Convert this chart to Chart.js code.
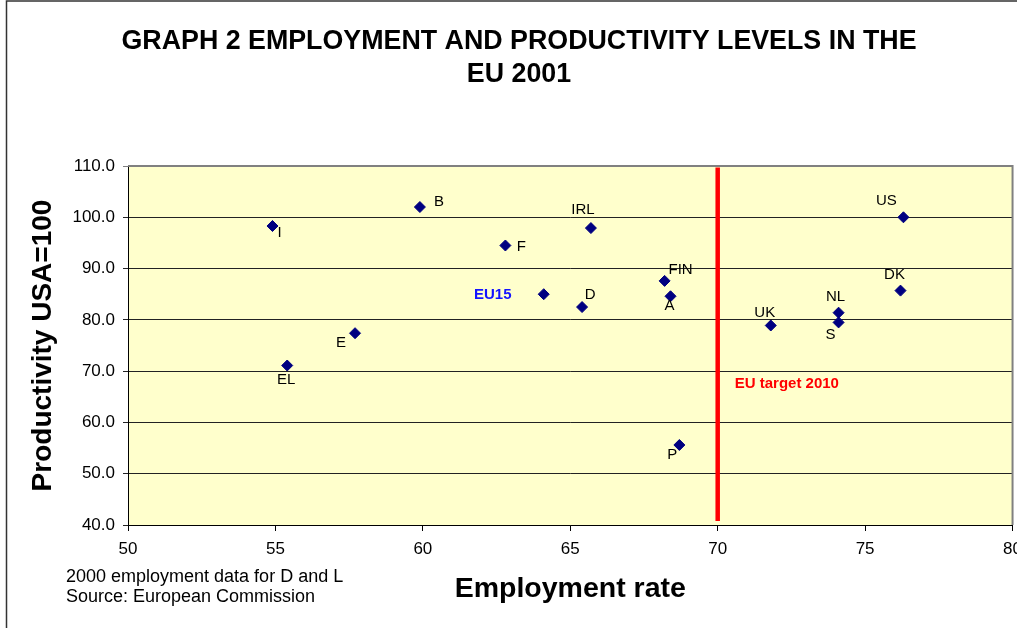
<!DOCTYPE html>
<html>
<head>
<meta charset="utf-8">
<title>Employment and productivity levels in the EU 2001</title>
<script src="https://cdn.jsdelivr.net/npm/chart.js@4.4.1/dist/chart.umd.min.js"></script>
<style>
  html, body { margin: 0; padding: 0; background: #ffffff; overflow: hidden; }
  #wrap { width: 1017px; height: 628px; position: relative; overflow: hidden; }
  canvas { display: block; }
</style>
</head>
<body>
<div id="wrap"><canvas id="chart" width="1030" height="628"></canvas></div>
<script>
// Country codes, employment rate (%) and productivity (USA = 100), 2001
const countries      = ['I', 'B', 'IRL', 'F', 'EU15', 'D', 'E', 'EL', 'US', 'FIN', 'A', 'DK', 'NL', 'S', 'UK', 'P'];
const employmentRate = [54.9, 59.9, 65.7, 62.8, 64.1, 65.4, 57.7, 55.4, 76.3, 68.2, 68.4, 76.2, 74.1, 74.1, 71.8, 68.7];
const productivity   = [98.3, 102.0, 97.9, 94.5, 85.0, 82.5, 77.4, 71.1, 100.0, 87.6, 84.6, 85.7, 81.4, 79.5, 78.9, 55.6];

// Axis ticks
const xTicks = [50, 55, 60, 65, 70, 75, 80];
const yTicks = [40, 50, 60, 70, 80, 90, 100, 110];

// Lisbon employment-rate target for 2010
const targetRate = 70;
const targetLabel = 'EU target 2010';

// Text
const titleLines = ['GRAPH 2 EMPLOYMENT AND PRODUCTIVITY LEVELS IN THE', 'EU 2001'];
const xTitle = 'Employment rate';
const yTitle = 'Productivity USA=100';
const notes = ['2000 employment data for D and L', 'Source: European Commission'];

// Where each country code sits relative to its marker (px)
const labelOffsets = {
  I: [7, 7], B: [19, -5], IRL: [-8, -18], F: [16, 1], EU15: [-51, 1], D: [8, -12],
  E: [-14, 10], EL: [-1, 14], US: [-17, -16], FIN: [16, -11], A: [-1, 10],
  DK: [-6, -16], NL: [-3, -16], S: [-8, 12], UK: [-6, -13], P: [-7, 10]
};

const FONT = '"Liberation Sans", Arial, Helvetica, sans-serif';
const points = countries.map((c, i) => ({ x: employmentRate[i], y: productivity[i] }));

const decorations = {
  id: 'decorations',
  beforeDraw(chart) {
    const { ctx, chartArea: a } = chart;
    ctx.save();
    ctx.fillStyle = '#ffffcc';
    ctx.fillRect(a.left, a.top, a.right - a.left, a.bottom - a.top);
    ctx.restore();
  },
  beforeDatasetsDraw(chart) {
    const { ctx, chartArea: a } = chart;
    ctx.save();
    ctx.strokeStyle = '#808080';
    ctx.lineWidth = 2;
    ctx.beginPath();
    ctx.moveTo(a.left, a.top);
    ctx.lineTo(a.right, a.top);
    ctx.lineTo(a.right, a.bottom);
    ctx.stroke();
    ctx.restore();
  },
  afterDatasetsDraw(chart) {
    const { ctx } = chart;
    const meta = chart.getDatasetMeta(0);
    ctx.save();
    ctx.textAlign = 'center';
    ctx.textBaseline = 'middle';
    meta.data.forEach((pt, i) => {
      const code = countries[i];
      const off = labelOffsets[code] || [0, -14];
      if (code === 'EU15') {
        ctx.font = 'bold 15px ' + FONT;
        ctx.fillStyle = '#1414ff';
      } else {
        ctx.font = '15px ' + FONT;
        ctx.fillStyle = '#000000';
      }
      ctx.fillText(code, pt.x + off[0], pt.y + off[1]);
    });
    // target annotation
    const xs = chart.scales.x, ys = chart.scales.y;
    ctx.font = 'bold 15px ' + FONT;
    ctx.fillStyle = '#ff0000';
    ctx.textAlign = 'left';
    ctx.fillText(targetLabel, xs.getPixelForValue(targetRate) + 17, ys.getPixelForValue(67.5));
    ctx.restore();
  },
  afterDraw(chart) {
    const { ctx, chartArea: a } = chart;
    ctx.save();
    // frame around the whole chart object
    ctx.strokeStyle = '#333333';
    ctx.lineWidth = 1.5;
    ctx.beginPath();
    ctx.moveTo(6.5, 628);
    ctx.lineTo(6.5, 1);
    ctx.lineTo(chart.width, 1);
    ctx.stroke();

    ctx.fillStyle = '#000000';
    ctx.textAlign = 'center';
    ctx.textBaseline = 'middle';
    ctx.font = 'bold 26.8px ' + FONT;
    ctx.fillText(titleLines[0], 519, 42);
    ctx.fillText(titleLines[1], 519, 75);

    ctx.font = 'bold 28.5px ' + FONT;
    ctx.fillText(xTitle, (a.left + a.right) / 2, 589);

    ctx.save();
    ctx.translate(43, (a.top + a.bottom) / 2);
    ctx.rotate(-Math.PI / 2);
    ctx.font = 'bold 28px ' + FONT;
    ctx.fillText(yTitle, 0, 0);
    ctx.restore();

    ctx.font = '18px ' + FONT;
    ctx.textAlign = 'left';
    ctx.fillText(notes[0], 66, 577);
    ctx.fillText(notes[1], 66, 597);
    ctx.restore();
  }
};

new Chart(document.getElementById('chart'), {
  type: 'scatter',
  data: {
    datasets: [
      {
        label: 'Countries',
        data: points,
        pointStyle: 'rectRot',
        pointRadius: 5.5,
        pointBorderWidth: 1,
        backgroundColor: '#000080',
        borderColor: '#000080',
        order: 1
      },
      {
        type: 'line',
        label: targetLabel,
        data: [{ x: targetRate, y: 40.8 }, { x: targetRate, y: 109.7 }],
        borderColor: '#ff0000',
        borderWidth: 4.5,
        pointRadius: 0,
        fill: false,
        order: 2
      }
    ]
  },
  options: {
    responsive: false,
    animation: false,
    devicePixelRatio: 1,
    layout: { padding: { top: 166, left: 0, right: 16, bottom: 0 } },
    plugins: { legend: { display: false }, tooltip: { enabled: false }, title: { display: false } },
    scales: {
      x: {
        type: 'linear',
        min: 50, max: 80,
        afterBuildTicks: s => { s.ticks = xTicks.map(v => ({ value: v })); },
        afterFit: s => { s.height = 103; },
        ticks: { font: { family: FONT, size: 17 }, color: '#000000', padding: 8, maxRotation: 0 },
        grid: { drawOnChartArea: false, drawTicks: true, tickLength: 6, color: '#000000' },
        border: { color: '#000000', width: 1 }
      },
      y: {
        type: 'linear',
        min: 40, max: 110,
        afterBuildTicks: s => { s.ticks = yTicks.map(v => ({ value: v })); },
        afterFit: s => { s.width = 128; },
        ticks: { font: { family: FONT, size: 17 }, color: '#000000', padding: 8, callback: v => Number(v).toFixed(1) },
        grid: {
          color: c => (c.tick && c.tick.value === 110 ? '#808080' : '#222222'),
          tickLength: 5,
          drawTicks: true
        },
        border: { color: '#000000', width: 1 }
      }
    }
  },
  plugins: [decorations]
});
</script>
</body>
</html>
